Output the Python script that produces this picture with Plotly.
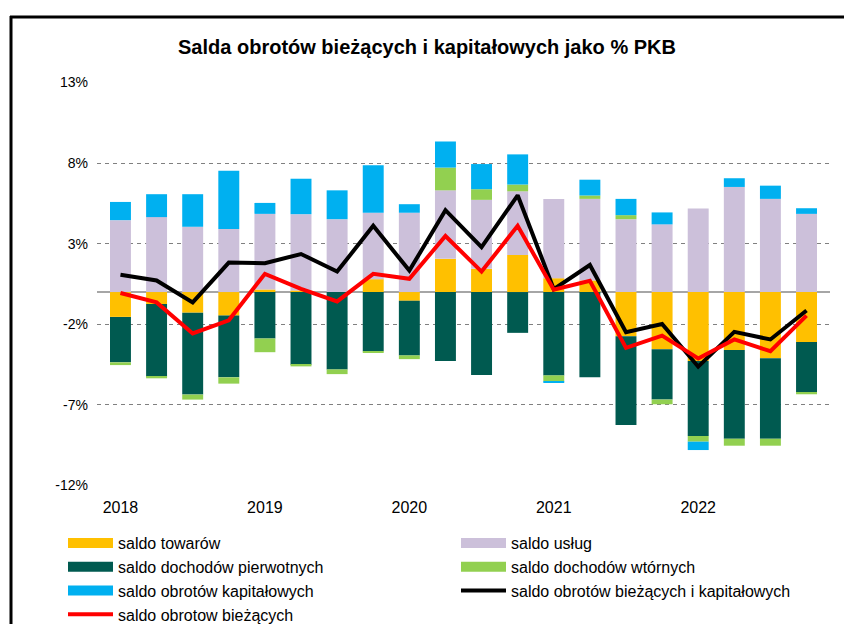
import plotly.graph_objects as go

quarters = ["2018Q1", "2018Q2", "2018Q3", "2018Q4",
            "2019Q1", "2019Q2", "2019Q3", "2019Q4",
            "2020Q1", "2020Q2", "2020Q3", "2020Q4",
            "2021Q1", "2021Q2", "2021Q3", "2021Q4",
            "2022Q1", "2022Q2", "2022Q3", "2022Q4"]
year_tick_pos = ["2018Q1", "2019Q1", "2020Q1", "2021Q1", "2022Q1"]
year_tick_text = ["2018", "2019", "2020", "2021", "2022"]

goods = [-1.54, -0.74, -1.28, -1.46, 0.16, 0.10, 0.00, 0.80, -0.54, 2.06,
         1.44, 2.30, 0.86, 0.72, -2.74, -3.54, -4.28, -3.60, -4.10, -3.09]
services = [4.46, 4.65, 4.05, 3.91, 4.69, 4.73, 4.52, 4.12, 4.92, 4.25,
            4.28, 3.95, 4.92, 5.06, 4.52, 4.20, 5.19, 6.52, 5.78, 4.85]
primary = [-2.82, -4.51, -5.08, -3.83, -2.88, -4.51, -4.80, -3.67, -3.39, -4.28,
           -5.15, -2.53, -5.17, -5.29, -5.51, -3.13, -4.65, -5.50, -5.00, -3.13]
secondary = [-0.17, -0.10, -0.31, -0.39, -0.85, -0.10, -0.29, -0.08, -0.23, 1.41,
             0.66, 0.42, -0.37, 0.21, 0.25, -0.29, -0.35, -0.43, -0.43, -0.12]
capital = [1.13, 1.42, 2.02, 3.62, 0.68, 2.20, 1.79, 2.94, 0.53, 1.62,
           1.56, 1.87, -0.10, 0.98, 1.01, 0.74, -0.52, 0.54, 0.82, 0.35]
current_capital = [1.07, 0.72, -0.64, 1.83, 1.79, 2.36, 1.27, 4.11, 1.33, 5.08,
                   2.78, 6.00, 0.18, 1.68, -2.49, -1.98, -4.63, -2.47, -2.94, -1.14]
current = [-0.06, -0.64, -2.57, -1.75, 1.13, 0.20, -0.58, 1.13, 0.82, 3.48,
           1.27, 4.11, 0.14, 0.70, -3.46, -2.70, -4.12, -2.94, -3.67, -1.46]

y_ticks = [13, 8, 3, -2, -7, -12]
y_tick_text = ["13%", "8%", "3%", "-2%", "-7%", "-12%"]

bar_series = [
    ("saldo towarów", goods, "#FFC000"),
    ("saldo usług", services, "#CCC0DA"),
    ("saldo dochodów pierwotnych", primary, "#005A50"),
    ("saldo dochodów wtórnych", secondary, "#92D050"),
    ("saldo obrotów kapitałowych", capital, "#00B0F0"),
]

FONT = "Liberation Sans, Arial, sans-serif"
W, H = 844, 624
ML, MR, MT, MB = 97, 844 - 830, 82, 624 - 486
PW, PH = W - ML - MR, H - MT - MB


def px_x(sx):
    return (sx - ML) / PW


def px_y(sy):
    return (H - MB - sy) / PH


fig = go.Figure()
for name, vals, col in bar_series:
    fig.add_trace(go.Bar(x=quarters, y=vals, name=name, marker_color=col,
                         marker_line_width=0, showlegend=False, width=0.58))
# legend-only entries with wide swatches
for name, vals, col in bar_series:
    fig.add_trace(go.Scatter(x=[None], y=[None], mode="lines", name=name,
                             line=dict(color=col, width=11)))
fig.add_trace(go.Scatter(x=quarters, y=current_capital, mode="lines",
                         name="saldo obrotów bieżących i kapitałowych",
                         line=dict(color="#000000", width=4)))
fig.add_trace(go.Scatter(x=quarters, y=current, mode="lines",
                         name="saldo obrotow bieżących",
                         line=dict(color="#FF0000", width=4)))

fig.update_layout(
    width=W, height=H,
    margin=dict(l=ML, r=MR, t=MT, b=MB, autoexpand=False),
    paper_bgcolor="white", plot_bgcolor="white",
    barmode="relative", bargap=0.42,
    font=dict(family=FONT, color="#000000", size=16),
    title=dict(text="<b>Salda obrotów bieżących i kapitałowych jako % PKB</b>",
               x=427 / W, xanchor="center", y=1 - 47 / H,
               yanchor="middle",
               font=dict(size=20, family=FONT, color="#000000")),
    xaxis=dict(type="category", categoryorder="array", categoryarray=quarters,
               range=[-0.65, 19.65], tickmode="array", tickvals=year_tick_pos,
               ticktext=year_tick_text, showgrid=False, showline=False,
               ticks="", ticklabelstandoff=10, tickfont=dict(size=16),
               zeroline=False),
    yaxis=dict(range=[-12.03, 13.03], tickmode="array", tickvals=y_ticks,
               ticktext=y_tick_text, showgrid=True, gridcolor="#808080",
               griddash="4px,4px", gridwidth=1, zeroline=True,
               zerolinecolor="#A6A6A6", zerolinewidth=2, showline=False,
               ticks="", ticklabelstandoff=8, tickfont=dict(size=14)),
    legend=dict(orientation="h", x=px_x(63), y=px_y(526), xanchor="left",
                yanchor="top", entrywidth=333, entrywidthmode="pixels",
                font=dict(size=16, family=FONT), bgcolor="rgba(0,0,0,0)",
                itemwidth=45, traceorder="normal"),
    shapes=[
        dict(type="line", xref="paper", yref="paper", x0=px_x(10), x1=px_x(850),
             y0=px_y(17), y1=px_y(17), line=dict(color="#000000", width=3)),
        dict(type="line", xref="paper", yref="paper", x0=px_x(11), x1=px_x(11),
             y0=px_y(16), y1=px_y(640), line=dict(color="#000000", width=3)),
    ],
)

fig.write_html(
    "out.html",
    config={"displayModeBar": False},
    post_script=("document.body.style.margin='0';"
                 "document.body.style.overflow='hidden';"
                 "document.documentElement.style.overflow='hidden';"),
)
